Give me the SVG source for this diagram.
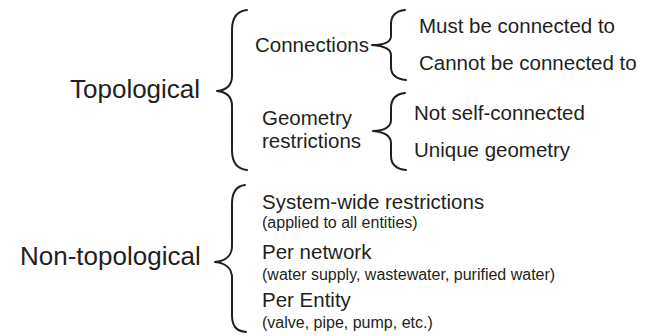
<svg xmlns="http://www.w3.org/2000/svg" width="654" height="336" viewBox="0 0 654 336">
<style>
text{font-family:"Liberation Sans",Arial,sans-serif;fill:#231f20}
.big{font-size:26px}
.mid{font-size:20.5px}
.small{font-size:16px}
.brace{fill:none;stroke:#231f20;stroke-width:2;stroke-linecap:round;stroke-linejoin:round}
</style>
<rect width="654" height="336" fill="#fff"/>
<g id="connectors">
<path class="brace" d="M247,10 C237,11 232,17 232,30 L232,76 C232,85 227,90 217,91 C227,92 232,97 232,106 L232,150 C232,163 237,169 247,170"/>
<path class="brace" d="M405,10 C396,11 391,16 391,24 L391,36 C391,42 385,45 372,45 C385,46 391,49 391,55 L391,67 C391,75 396,79 406,80"/>
<path class="brace" d="M405,93 C396,94 391,99 391,108 L391,120 C391,127 384,131 373,131 C384,132 391,136 391,143 L391,156 C391,165 396,169 406,170"/>
<path class="brace" d="M245,185 C236,186 232,192 232,204 L232,246 C232,255 226,261 215,262 C226,263 232,269 232,278 L232,315 C232,326 236,331 246,332"/>
</g>
<g id="topological"><text class="big" x="70" y="98">Topological</text></g>
<g id="connections"><text class="mid" x="255" y="52">Connections</text></g>
<g id="must"><text class="mid" x="419" y="33">Must be connected to</text></g>
<g id="cannot"><text class="mid" x="419" y="70">Cannot be connected to</text></g>
<g id="geometry"><text class="mid" x="262" y="125">Geometry</text><text class="mid" x="262" y="148">restrictions</text></g>
<g id="notself"><text class="mid" x="414" y="120">Not self-connected</text></g>
<g id="unique"><text class="mid" x="414" y="157">Unique geometry</text></g>
<g id="nontopological"><text class="big" x="20" y="265">Non-topological</text></g>
<g id="systemwide"><text class="mid" x="262" y="209">System-wide restrictions</text><text class="small" x="262" y="228">(applied to all entities)</text></g>
<g id="pernetwork"><text class="mid" x="262" y="259">Per network</text><text class="small" x="262" y="280">(water supply, wastewater, purified water)</text></g>
<g id="perentity"><text class="mid" x="262" y="307">Per Entity</text><text class="small" x="262" y="328">(valve, pipe, pump, etc.)</text></g>
</svg>
